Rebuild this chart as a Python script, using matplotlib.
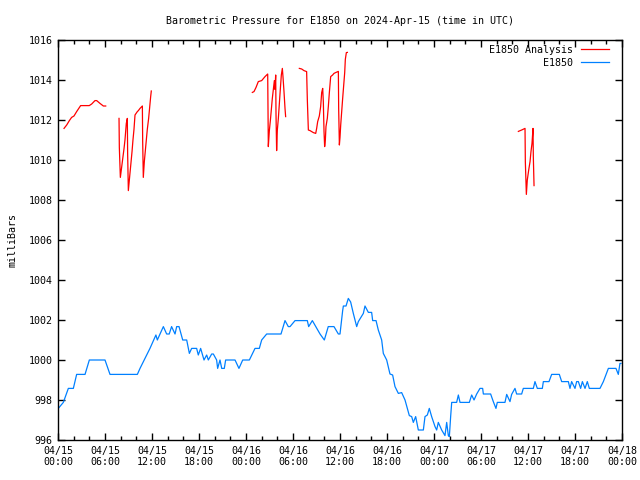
import numpy as np
import matplotlib
matplotlib.use("Agg")
import matplotlib.pyplot as plt
from matplotlib.ticker import MultipleLocator, FixedLocator

# hours since 2024-04-15 00:00 UTC, pressure in mbar
station_hours = [0.04, 0.68, 1.32, 1.96, 2.38, 3.45, 4.0, 6.0, 6.64, 10.13, 10.47, 11.0,
                 11.74, 12.5, 12.68, 13.45, 13.87, 14.2, 14.5, 14.94, 15.15, 15.45, 15.92,
                 16.43, 16.77, 17.06, 17.7, 17.91, 18.21, 18.64, 18.98, 19.19, 19.62, 19.83,
                 20.25, 20.38, 20.68, 20.9, 21.23, 21.4, 22.6, 23.1, 23.58, 24.43, 25.15,
                 25.7, 26.0, 26.64, 28.47, 28.98, 29.4, 29.62, 30.26, 31.83, 32.0, 32.47,
                 33.45, 34.0, 34.5, 35.23, 35.79, 36.0, 36.34, 36.43, 36.77, 37.06, 37.36,
                 37.7, 38.13, 38.34, 38.98, 39.19, 39.62, 40.04, 40.17, 40.6, 40.89, 41.32,
                 41.53, 41.96, 42.38, 42.72, 43.02, 43.45, 43.87, 44.3, 44.6, 44.85, 45.15,
                 45.36, 45.66, 46.0, 46.64, 46.85, 47.15, 47.4, 47.7, 48.13, 48.34, 48.55,
                 48.98, 49.4, 49.62, 49.83, 49.96, 50.13, 50.26, 50.89, 51.11, 51.32, 52.51,
                 52.81, 53.11, 53.45, 53.87, 54.21, 54.3, 55.23, 55.57, 55.91, 56.08, 57.06,
                 57.28, 57.7, 57.91, 58.34, 58.55, 59.19, 59.4, 60.68, 60.89, 61.19, 61.83,
                 61.96, 62.68, 63.02, 64.0, 64.3, 65.15, 65.36, 65.57, 66.0, 66.21, 66.43,
                 66.72, 66.94, 67.28, 67.57, 67.83, 69.19, 69.62, 70.26, 71.23, 71.53, 71.74,
                 71.87]
station_mbar = [997.58, 997.88, 998.58, 998.58, 999.28, 999.28, 1000.0, 1000.0, 999.28, 999.28,
                999.58, 1000.0, 1000.58, 1001.25, 1001.0, 1001.67, 1001.3, 1001.3, 1001.67,
                1001.3, 1001.67, 1001.67, 1001.0, 1001.0, 1000.33, 1000.58, 1000.58, 1000.25,
                1000.58, 1000.0, 1000.25, 1000.0, 1000.3, 1000.3, 1000.0, 999.58, 1000.0,
                999.58, 999.58, 1000.0, 1000.0, 999.58, 1000.0, 1000.0, 1000.58, 1000.58,
                1001.0, 1001.3, 1001.3, 1001.97, 1001.67, 1001.67, 1001.97, 1001.97, 1001.67,
                1001.97, 1001.3, 1001.0, 1001.67, 1001.67, 1001.3, 1001.3, 1002.47, 1002.7,
                1002.7, 1003.08, 1002.9, 1002.33, 1001.67, 1001.92, 1002.33, 1002.7, 1002.38,
                1002.38, 1001.97, 1001.97, 1001.5, 1001.0, 1000.33, 1000.0, 999.3, 999.25,
                998.67, 998.33, 998.37, 998.0, 997.58, 997.22, 997.17, 996.88, 997.17, 996.5,
                996.5, 997.17, 997.25, 997.58, 997.17, 996.67, 996.5, 996.88, 996.5, 996.22,
                996.88, 996.22, 996.17, 997.2, 997.88, 997.88, 998.25, 997.88, 997.88, 998.25,
                998.0, 998.3, 998.58, 998.58, 998.3, 998.3, 997.92, 997.58, 997.88, 997.88,
                998.28, 997.92, 998.28, 998.58, 998.3, 998.3, 998.58, 998.58, 998.92, 998.58,
                998.58, 998.92, 998.92, 999.28, 999.28, 998.92, 998.92, 998.58, 998.92,
                998.58, 998.92, 998.92, 998.58, 998.92, 998.58, 998.92, 998.58, 998.58,
                998.92, 999.58, 999.58, 999.28, 999.83, 999.83]

# analysis series, None marks gaps in the record
analysis_hours = [0.77, 1.11, 1.45, 1.74, 2.04, 2.38, 2.89, 3.99, 4.3, 4.72, 4.94, 5.36, 5.79, 6.09,
                  None,
                  7.79, 7.83, 7.96, 8.04, 8.17, 8.3, 8.43, 8.55, 8.72, 8.85, 8.89, 8.98, 9.06,
                  9.19, 9.32, 9.45, 9.57, 9.7, 9.83, 10.13, 10.26, 10.47, 10.77, 10.81, 10.89,
                  11.02, 11.15, 11.28, 11.4, 11.57, 11.7, 11.83, 11.91,
                  None,
                  24.81, 25.02, 25.28, 25.57, 26.0, 26.43, 26.77, 26.81, 26.85, 26.98, 27.11,
                  27.23, 27.36, 27.49, 27.62, 27.7, 27.79, 27.83, 27.91, 28.0, 28.13, 28.26,
                  28.38, 28.51, 28.64, 28.72, 28.85, 28.98, 29.06,
                  None,
                  30.81, 31.11, 31.4, 31.74, 31.83, 31.96, 32.17, 32.6, 32.9, 33.02, 33.15,
                  33.36, 33.53, 33.66, 33.79, 33.87, 33.96, 34.04, 34.13, 34.21, 34.38, 34.51,
                  34.64, 34.81, 35.06, 35.23, 35.49, 35.79, 35.83, 35.92, 36.0, 36.09, 36.21,
                  36.34, 36.47, 36.6, 36.68, 36.81, 36.94,
                  None,
                  58.77, 59.19, 59.62, 59.66, 59.79, 59.91, 60.09, 60.26, 60.38, 60.51, 60.64,
                  60.68, 60.77]
analysis_mbar = [1011.58, 1011.75, 1011.97, 1012.13, 1012.2, 1012.42, 1012.72, 1012.72, 1012.8,
                 1012.97, 1012.97, 1012.83, 1012.7, 1012.7,
                 None,
                 1012.08, 1010.63, 1009.13, 1009.37, 1009.75, 1010.17, 1010.58, 1011.0, 1011.83,
                 1012.08, 1010.33, 1008.47, 1008.8, 1009.33, 1009.92, 1010.42, 1011.0, 1011.53,
                 1012.25, 1012.42, 1012.47, 1012.58, 1012.7, 1010.92, 1009.13, 1009.92, 1010.47,
                 1011.0, 1011.53, 1012.08, 1012.63, 1013.17, 1013.45,
                 None,
                 1013.38, 1013.42, 1013.63, 1013.92, 1013.97, 1014.17, 1014.3, 1012.5, 1010.67,
                 1011.47, 1011.97, 1012.5, 1013.08, 1013.53, 1013.97, 1013.53, 1014.25, 1012.33,
                 1010.47, 1011.5, 1012.08, 1012.87, 1013.53, 1014.25, 1014.58, 1014.17, 1013.42,
                 1012.58, 1012.17,
                 None,
                 1014.58, 1014.55, 1014.47, 1014.42, 1013.0, 1011.5, 1011.47, 1011.37, 1011.33,
                 1011.58, 1011.92, 1012.2, 1012.67, 1013.37, 1013.58, 1012.92, 1011.42, 1010.67,
                 1011.0, 1011.67, 1012.08, 1012.67, 1013.37, 1014.17, 1014.25, 1014.33, 1014.38,
                 1014.43, 1012.58, 1010.75, 1011.13, 1011.75, 1012.42, 1013.08, 1013.75,
                 1014.37, 1015.03, 1015.37, 1015.38,
                 None,
                 1011.43, 1011.5, 1011.58, 1009.92, 1008.28, 1009.0, 1009.5, 1009.92, 1010.42,
                 1010.83, 1011.58, 1010.17, 1008.72]

tick_hours = list(range(0, 73, 6))
tick_labels = ["04/15\n00:00", "04/15\n06:00", "04/15\n12:00", "04/15\n18:00",
               "04/16\n00:00", "04/16\n06:00", "04/16\n12:00", "04/16\n18:00",
               "04/17\n00:00", "04/17\n06:00", "04/17\n12:00", "04/17\n18:00",
               "04/18\n00:00"]

plt.rcParams['font.family'] = 'DejaVu Sans Mono'
plt.rcParams['font.size'] = 7.2

fig = plt.figure(figsize=(6.4, 4.8), dpi=100)
ax = fig.add_axes([58 / 640, 40 / 480, 564 / 640, 400 / 480])

ah = np.array([np.nan if v is None else v for v in analysis_hours])
am = np.array([np.nan if v is None else v for v in analysis_mbar])
ax.plot(ah, am, color='#ff0000', lw=0.9, label='E1850 Analysis')
ax.plot(station_hours, station_mbar, color='#0080ff', lw=0.9, label='E1850')

ax.set_xlim(0, 72)
ax.set_ylim(996, 1016)
ax.set_xticks(tick_hours)
ax.set_xticklabels(tick_labels)
ax.xaxis.set_minor_locator(FixedLocator([h for h in range(0, 73, 2) if h % 6]))
ax.yaxis.set_major_locator(MultipleLocator(2))
ax.tick_params(which='both', direction='in', top=True, right=True, colors='black')
ax.tick_params(which='major', length=5, width=1, pad=4)
ax.tick_params(which='minor', length=3, width=1)
for s in ax.spines.values():
    s.set_linewidth(1.0)

ax.set_ylabel('milliBars', labelpad=8)
ax.set_title('Barometric Pressure for E1850 on 2024-Apr-15 (time in UTC)',
             fontsize=7.2, pad=11.5)

ax.legend(loc='upper right', bbox_to_anchor=(0.984, 0.9975), frameon=False,
          markerfirst=False, handlelength=2.8, handletextpad=0.8,
          labelspacing=0.3, borderaxespad=0)

fig.savefig('out.png', dpi=100)
